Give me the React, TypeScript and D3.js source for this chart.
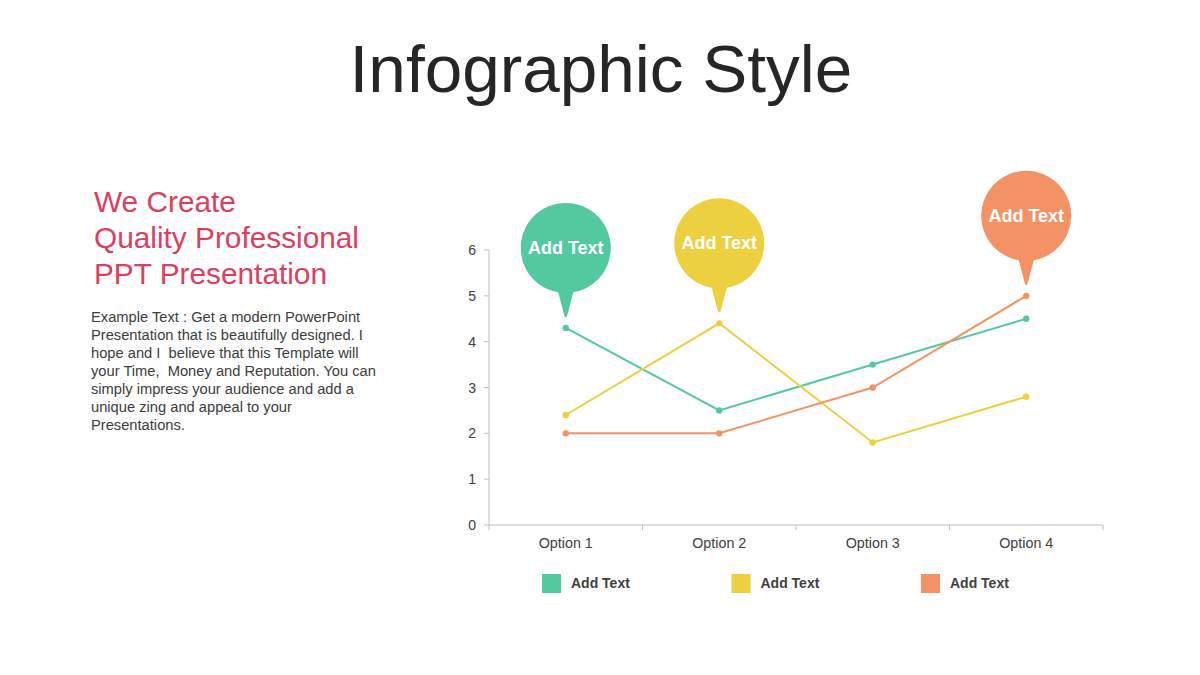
import React from "react";
import * as d3 from "d3";

const categories = ["Option 1", "Option 2", "Option 3", "Option 4"];
const seriesNames = ["Add Text", "Add Text", "Add Text"];
const greenValues = [4.3, 2.5, 3.5, 4.5];
const yellowValues = [2.4, 4.4, 1.8, 2.8];
const orangeValues = [2.0, 2.0, 3.0, 5.0];
const yTicks = [0, 1, 2, 3, 4, 5, 6];
const bubbleLabels = ["Add Text", "Add Text", "Add Text"];
const bubbleIndex = [0, 1, 3];
const colors = ["#53C9A0", "#EDD03F", "#F39365"];
const bodyLines = [
  "Example Text : Get a modern PowerPoint",
  "Presentation that is beautifully designed. I",
  "hope and I  believe that this Template will",
  "your Time,  Money and Reputation. You can",
  "simply impress your audience and add a",
  "unique zing and appeal to your",
  "Presentations.",
];
const headingLines = ["We Create", "Quality Professional", "PPT Presentation"];

const FONT = "'Liberation Sans', Arial, sans-serif";

export default function App() {
  const W = 1200;
  const H = 675;
  const left = 489;
  const right = 1103;
  const top = 250;
  const bottom = 525;
  const series = [greenValues, yellowValues, orangeValues];

  const x = d3.scaleBand<string>().domain(categories).range([left, right]).padding(0);
  const y = d3.scaleLinear().domain([0, 6]).range([bottom, top]);
  const cx = (i: number) => (x(categories[i]) as number) + x.bandwidth() / 2;
  const line = d3
    .line<number>()
    .x((_, i) => cx(i))
    .y((d) => y(d));

  const boundaries = categories.map((c) => x(c) as number).concat([right]);

  return (
    <svg
      width={W}
      height={H}
      style={{ position: "absolute", left: 0, top: 0, background: "#fff" }}
      fontFamily={FONT}
    >
      <rect x={0} y={0} width={W} height={H} fill="#fff" />
      <text x={601} y={92} textAnchor="middle" fontSize={67.5} fill="#262626">
        Infographic Style
      </text>

      {headingLines.map((t, i) => (
        <text key={i} x={94} y={212 + i * 36} fontSize={29.8} fill="#DE3E5C">
          {t}
        </text>
      ))}
      {bodyLines.map((t, i) => (
        <text key={i} x={91} y={322 + i * 18} fontSize={14.7} fill="#3C3C3C" style={{ whiteSpace: "pre" }}>
          {t}
        </text>
      ))}

      {/* axes */}
      <line x1={left} x2={left} y1={top} y2={bottom} stroke="#BFBFBF" strokeWidth={1} />
      <line x1={left} x2={right} y1={bottom} y2={bottom} stroke="#BFBFBF" strokeWidth={1} />
      {yTicks.map((t) => (
        <g key={t}>
          <line x1={left - 5} x2={left} y1={y(t)} y2={y(t)} stroke="#BFBFBF" />
          <text x={476} y={y(t) + 5} textAnchor="end" fontSize={14} fill="#404040">
            {t}
          </text>
        </g>
      ))}
      {boundaries.map((b, i) => (
        <line key={i} x1={b} x2={b} y1={bottom} y2={bottom + 5} stroke="#BFBFBF" />
      ))}
      {categories.map((c, i) => (
        <text key={c} x={cx(i)} y={548} textAnchor="middle" fontSize={14.3} fill="#404040">
          {c}
        </text>
      ))}

      {/* lines */}
      {series.map((s, si) => (
        <g key={si}>
          <path d={line(s) || ""} fill="none" stroke={colors[si]} strokeWidth={2} />
          {s.map((v, i) => (
            <circle key={i} cx={cx(i)} cy={y(v)} r={3.2} fill={colors[si]} />
          ))}
        </g>
      ))}

      {/* bubbles */}
      {series.map((s, si) => {
        const i = bubbleIndex[si];
        const px = cx(i);
        const tipY = y(s[i]) - 11;
        const cy = tipY - 69;
        const r = 45;
        const baseY = cy + r - 6;
        return (
          <g key={si}>
            <path
              d={`M${px - 9},${baseY} L${px + 9},${baseY} L${px + 1},${tipY} L${px - 1},${tipY} Z`}
              fill={colors[si]}
            />
            <circle cx={px} cy={cy} r={r} fill={colors[si]} />
            <text
              x={px}
              y={cy + 6}
              textAnchor="middle"
              fontSize={18}
              fontWeight="bold"
              fill="#fff"
            >
              {bubbleLabels[si]}
            </text>
          </g>
        );
      })}

      {/* legend */}
      {seriesNames.map((n, i) => (
        <g key={i}>
          <rect x={542 + i * 189.5} y={574} width={19} height={19} fill={colors[i]} />
          <text x={571 + i * 189.5} y={588} fontSize={14} fontWeight="bold" fill="#404040">
            {n}
          </text>
        </g>
      ))}
    </svg>
  );
}
